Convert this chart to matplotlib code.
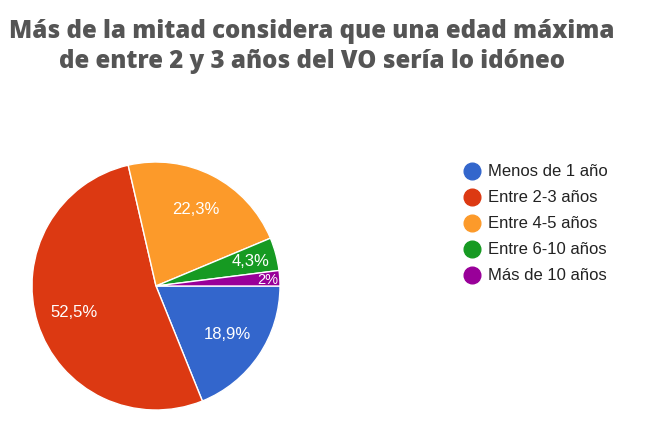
import matplotlib.pyplot as plt
from matplotlib.lines import Line2D
import numpy as np

# data
labels = ['Menos de 1 año', 'Entre 2-3 años', 'Entre 4-5 años', 'Entre 6-10 años', 'Más de 10 años']
values = [18.9, 52.5, 22.3, 4.3, 2.0]
pct_text = ['18,9%', '52,5%', '22,3%', '4,3%', '2%']
colors = ['#3366CC', '#DC3912', '#FC9A2A', '#169A22', '#990099']

W, H = 667, 439
fig = plt.figure(figsize=(W / 100, H / 100), dpi=100)

# pie centre ~ (156, 287) px from top-left, radius ~124 px
cx, cy, r = 156, 287, 124
ax = fig.add_axes([(cx - r) / W, (H - cy - r) / H, 2 * r / W, 2 * r / H])
wedges, _ = ax.pie(values, colors=colors, startangle=0, counterclock=False,
                   radius=1, wedgeprops=dict(edgecolor='white', linewidth=1))
ax.set_xlim(-1, 1)
ax.set_ylim(-1, 1)
ax.set_aspect('auto')
ax.axis('off')

# percentage labels, inside the slices
dists = [0.69, 0.69, 0.70, 0.79, 0.90]
sizes = [12, 12, 12, 12, 10.5]
for w, txt, d, s in zip(wedges, pct_text, dists, sizes):
    mid = np.deg2rad((w.theta1 + w.theta2) / 2)
    ax.text(d * np.cos(mid), d * np.sin(mid), txt, color='white', ha='center',
            va='center', fontsize=s, family='Liberation Sans')

# title
title_lines = ['Más de la mitad considera que una edad máxima',
               'de entre 2 y 3 años del VO sería lo idóneo']
for i, line in enumerate(title_lines):
    fig.text(312 / W, 1 - (31 + 31 * i) / H, line, ha='center', va='center',
             fontsize=17.3, fontweight='heavy', color='#555555', family='Open Sans')

# legend, drawn row by row
for i, (lab, c) in enumerate(zip(labels, colors)):
    y = 1 - (172 + 26 * i) / H
    fig.add_artist(Line2D([472 / W], [y], marker='o', markersize=12,
                          markerfacecolor=c, markeredgecolor=c,
                          transform=fig.transFigure))
    fig.text(488 / W, y, lab, ha='left', va='center', fontsize=12,
             color='#222222', family='Liberation Sans')

fig.savefig('out.png', dpi=100, facecolor='white')
